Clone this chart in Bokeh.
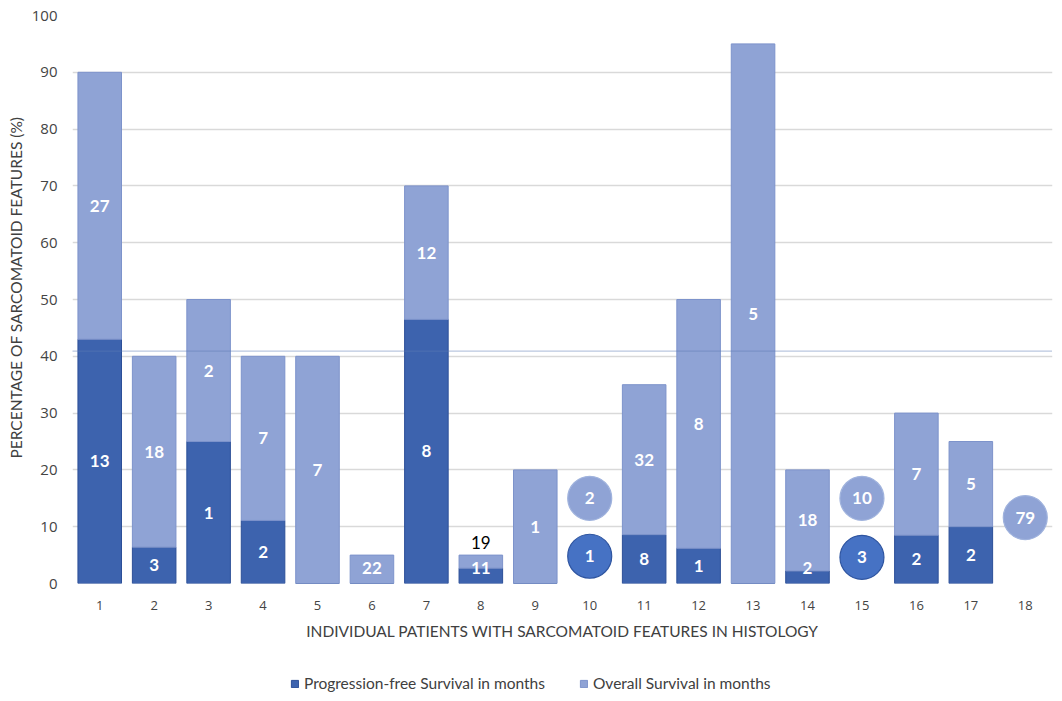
from bokeh.plotting import figure
from bokeh.layouts import column
from bokeh.models import ColumnDataSource, FixedTicker, Span, Legend, LegendItem, Title
from bokeh.core.properties import value
from bokeh.embed import file_html
from bokeh.resources import INLINE

# ---- data ----
patients = list(range(1, 19))
pct_sarcomatoid = [90, 40, 50, 40, 40, 5, 70, 5, 20, 0, 35, 50, 95, 20, 0, 30, 25, 0]
pfs_share = [43, 6.4, 25, 11.1, 0, 0, 46.5, 2.7, 0, 0, 8.6, 6.2, 0, 2.2, 0, 8.5, 10, 0]
pfs_months = ["13", "3", "1", "2", "", "", "8", "11", "", "", "8", "1", "", "2", "", "2", "2", ""]
os_months = ["27", "18", "2", "7", "7", "22", "12", "19", "1", "", "32", "8", "5", "18", "", "7", "5", ""]
circle_patient = [10, 10, 15, 15, 18]
circle_level = [15, 4.8, 15, 4.6, 11.6]
circle_months = ["2", "1", "10", "3", "79"]
circle_series = ["os", "pfs", "os", "pfs", "os"]
reference_level = 40.9
y_ticks = list(range(0, 101, 10))
legend_labels = ["Progression-free Survival in months", "Overall Survival in months"]

PFS_COL = "#3D63AE"
PFS_LINE = "#2C4F98"
OS_COL = "#8FA3D5"
OS_LINE = "#7D93CB"

p = figure(width=1060, height=650, x_range=(0.5, 18.5), y_range=(0, 100),
           output_backend="svg", toolbar_location=None,
           min_border_left=70, min_border_right=8, min_border_top=15, min_border_bottom=67)
p.outline_line_color = None
p.background_fill_color = "white"

px, pp, pt = [], [], []
for x, pf, tot in zip(patients, pfs_share, pct_sarcomatoid):
    if tot > 0:
        px.append(x); pp.append(pf); pt.append(tot)
src = ColumnDataSource(dict(x=px, pfs=pp, tot=pt))
p.vbar(x="x", bottom=0, top="pfs", width=0.8, source=src,
       fill_color=PFS_COL, line_color=PFS_LINE, line_width=1)
p.vbar(x="x", bottom="pfs", top="tot", width=0.8, source=src,
       fill_color=OS_COL, line_color=OS_LINE, line_width=1)

# reference dotted line
p.add_layout(Span(location=reference_level, dimension="width", line_color="#5F7DB5",
                  line_dash="1 1", line_width=1.2, line_alpha=0.85))

# labels inside bars (white) and above tiny segments (black)
lx, ly, lt = [], [], []
ox, oy, ot = [], [], []
for x, pf, tot, a, b in zip(patients, pfs_share, pct_sarcomatoid, pfs_months, os_months):
    if a:
        lx.append(x); ly.append(max(pf / 2, 2.7)); lt.append(a)
    if b:
        seg = tot - pf
        if seg < 3:
            ox.append(x); oy.append(tot + 2.2); ot.append(b)
        else:
            lx.append(x); ly.append(max(pf + seg / 2, 2.7)); lt.append(b)
lsrc = ColumnDataSource(dict(x=lx, y=ly, t=lt))
p.text(x="x", y="y", text="t", text_color="white", source=lsrc, text_align="center",
       text_baseline="middle", text_font=value("Lato"), text_font_size="17px",
       text_font_style="bold")
osrc = ColumnDataSource(dict(x=ox, y=oy, t=ot))
p.text(x="x", y="y", text="t", text_color="black", source=osrc, text_align="center",
       text_baseline="middle", text_font=value("Lato"), text_font_size="17px")

# circles
cf = [OS_COL if s == "os" else "#4672C4" for s in circle_series]
cl = ["#A0B3DD" if s == "os" else "#2F55A0" for s in circle_series]
csrc = ColumnDataSource(dict(x=circle_patient, y=circle_level, t=circle_months, f=cf, l=cl))
p.scatter(x="x", y="y", size=44, marker="circle", fill_color="f", line_color="l",
          line_width=1.2, source=csrc)
p.text(x="x", y="y", text="t", text_color="white", source=csrc, text_align="center",
       text_baseline="middle", text_font=value("Lato"), text_font_size="17px",
       text_font_style="bold")

# axes
p.xaxis.ticker = FixedTicker(ticks=patients)
p.yaxis.ticker = FixedTicker(ticks=y_ticks)
for ax in (p.xaxis[0], p.yaxis[0]):
    ax.axis_line_color = None
    ax.major_tick_line_color = None
    ax.minor_tick_line_color = None
    ax.major_label_text_font = "Open Sans"
    ax.major_label_text_color = "#444444"
    ax.axis_label_text_font = "Lato"
    ax.axis_label_text_font_style = "normal"
    ax.axis_label_text_color = "#404040"
p.xaxis.axis_label_text_font_size = "15.5px"
p.xaxis.major_label_text_font_size = "13px"
p.yaxis.major_label_text_font_size = "15px"
p.xaxis.major_label_standoff = 11
p.yaxis.major_label_standoff = 9
p.xaxis.axis_label = "INDIVIDUAL PATIENTS WITH SARCOMATOID FEATURES IN HISTOLOGY"
p.xaxis.axis_label_standoff = 9
p.xgrid.grid_line_color = None
p.ygrid.grid_line_color = "#D9D9D9"
p.ygrid.grid_line_width = 1.3

ytitle = Title(text="PERCENTAGE OF SARCOMATOID FEATURES (%)", align="left", offset=125,
               text_font="Lato", text_font_size="15.5px", text_font_style="normal",
               text_color="#404040", standoff=8)
p.add_layout(ytitle, "left")

# legend strip (its frame is aligned with the main frame by the column layout)
lg = figure(width=1060, height=50, x_range=(0, 1), y_range=(0, 1),
            output_backend="svg", toolbar_location=None,
            x_axis_location=None, y_axis_location=None,
            min_border_left=70, min_border_right=8, min_border_top=0, min_border_bottom=0)
lg.grid.visible = False
lg.outline_line_color = None
e = ColumnDataSource(dict(x=[-5], top=[0]))  # off-screen, only for legend swatches
r1 = lg.vbar(x="x", top="top", width=0.1, fill_color=PFS_COL, line_color=PFS_LINE, source=e)
r2 = lg.vbar(x="x", top="top", width=0.1, fill_color=OS_COL, line_color=OS_LINE, source=e)
legend = Legend(items=[LegendItem(label=legend_labels[0], renderers=[r1]),
                       LegendItem(label=legend_labels[1], renderers=[r2])],
                location=(218, 8), orientation="horizontal",
                glyph_width=9, glyph_height=9, label_standoff=5, spacing=34,
                padding=0, margin=0, border_line_color=None, background_fill_alpha=0,
                label_text_font="Lato", label_text_font_size="15.5px",
                label_text_color="#404040")
lg.add_layout(legend, "center")

open("out.html", "w").write(file_html(column(p, lg), INLINE))
